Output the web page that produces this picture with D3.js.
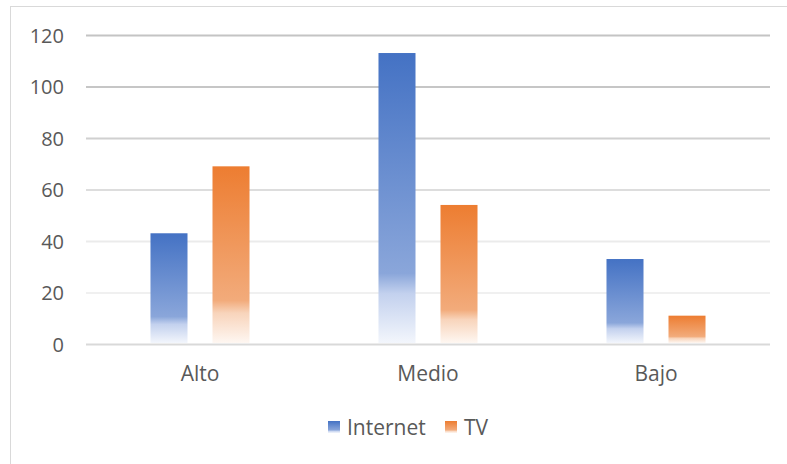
<!DOCTYPE html>
<html>
<head>
<meta charset="utf-8">
<script src="https://cdn.jsdelivr.net/npm/d3@7"></script>
<style>
  html, body { margin: 0; padding: 0; background: #fff; }
  svg { display: block; }
  text { font-family: "Open Sans", "Noto Sans", sans-serif; fill: #595959; }
</style>
</head>
<body>
<svg id="chart" width="787" height="464"></svg>
<script>
// Data
const categories = ["Alto", "Medio", "Bajo"];
const seriesNames = ["Internet", "TV"];
const internetValues = [43, 113, 33];
const tvValues = [69, 54, 11];
const yTicks = [0, 20, 40, 60, 80, 100, 120];

const seriesColors = {
  Internet: { base: "#4472C4", mid: "#8aa6da", light: "#c3d1ee", end: "#f3f6fc" },
  TV:       { base: "#ED7D31", mid: "#f2ab7b", light: "#f8d4bb", end: "#fef7f2" }
};

const svg = d3.select("#chart");
const W = 787, H = 464;
const plot = { left: 86, right: 770, top: 35, bottom: 344 };

// Chart frame
svg.append("rect")
  .attr("x", 10.5).attr("y", 6.5)
  .attr("width", W + 20).attr("height", H + 20)
  .attr("fill", "#fff").attr("stroke", "#d9d9d9").attr("stroke-width", 1);

const x0 = d3.scaleBand().domain(categories).range([plot.left, plot.right]).paddingInner(0).paddingOuter(0);
const x1 = d3.scaleBand().domain(seriesNames).range([0, x0.bandwidth()]).paddingInner(0.403).paddingOuter(1.04);
const y = d3.scaleLinear().domain([0, 120]).range([plot.bottom, plot.top]);

// Gradients (per series, one stretch across each bar)
const defs = svg.append("defs");
seriesNames.forEach(name => {
  const c = seriesColors[name];
  const g = defs.append("linearGradient")
    .attr("id", "grad-" + name)
    .attr("x1", 0).attr("y1", 0).attr("x2", 0).attr("y2", 1);
  [[0, c.base], [0.76, c.mid], [0.83, c.light], [1, c.end]].forEach(([o, col]) => {
    g.append("stop").attr("offset", o).attr("stop-color", col);
  });
});

// Gridlines, fading from darker at the top to lighter at the bottom
const gridColor = d3.scaleLinear().domain([120, 100, 80, 60, 40, 20])
  .range(["#c4c4c4", "#c6c6c6", "#d0d0d0", "#dddddd", "#ebebeb", "#f0f0f0"]);
const yAxis = d3.axisLeft(y).tickValues(yTicks).tickSize(-(plot.right - plot.left)).tickPadding(22);
const gy = svg.append("g").attr("transform", `translate(${plot.left},0)`).call(yAxis);
gy.select(".domain").remove();
gy.selectAll(".tick line")
  .attr("stroke", d => d === 0 ? "#d9d9d9" : gridColor(d))
  .attr("stroke-width", 2);
gy.selectAll(".tick text")
  .attr("font-size", 20)
  .attr("fill", "#595959")
  .attr("dy", "0.36em");

// Bars
const rows = categories.map((cat, i) => ({ cat, values: [
  { name: "Internet", value: internetValues[i] },
  { name: "TV", value: tvValues[i] }
]}));

const groups = svg.append("g").selectAll("g").data(rows).join("g")
  .attr("transform", d => `translate(${x0(d.cat)},0)`);
groups.selectAll("rect").data(d => d.values).join("rect")
  .attr("x", d => x1(d.name))
  .attr("width", x1.bandwidth())
  .attr("y", d => y(d.value))
  .attr("height", d => y(0) - y(d.value) - 1)
  .attr("fill", d => `url(#grad-${d.name})`);

// Category axis labels
const xAxis = d3.axisBottom(x0).tickSize(0).tickPadding(22);
const gx = svg.append("g").attr("transform", `translate(0,${plot.bottom})`).call(xAxis);
gx.select(".domain").remove();
gx.selectAll(".tick text").attr("font-size", 21).attr("fill", "#595959");

// Legend
const legend = svg.append("g").attr("transform", "translate(328,421)");
const legendItems = [{ name: "Internet", dx: 0 }, { name: "TV", dx: 117 }];
legendItems.forEach(it => {
  const g = legend.append("g").attr("transform", `translate(${it.dx},0)`);
  g.append("rect").attr("width", 12).attr("height", 12).attr("fill", `url(#grad-${it.name})`);
  g.append("text").attr("x", 19).attr("y", 6).attr("dy", "0.36em")
    .attr("font-size", 21).text(it.name);
});
</script>
</body>
</html>
